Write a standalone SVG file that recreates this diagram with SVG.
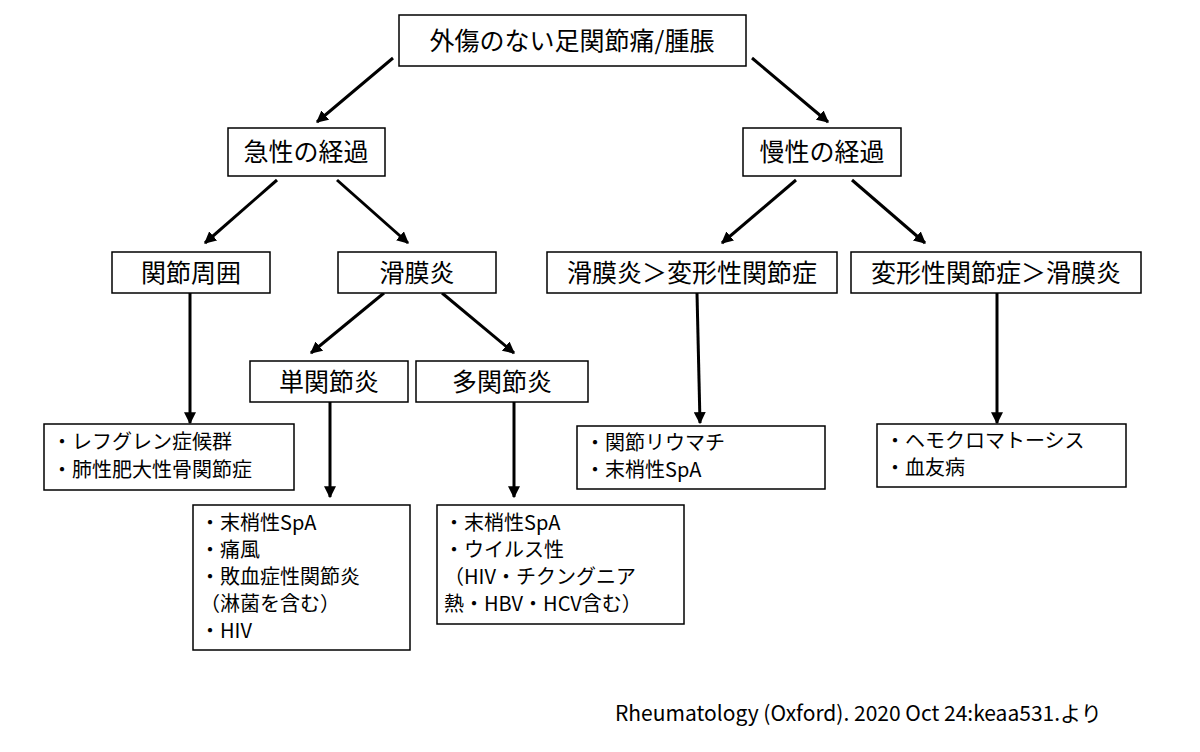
<svg xmlns="http://www.w3.org/2000/svg" width="1200" height="752" viewBox="0 0 1200 752">
<style>
.b{fill:#fff;stroke:#000;stroke-width:1.5}
.t{font-family:"Noto Sans CJK JP","Noto Sans",sans-serif;font-size:25px;fill:#000}
.s{font-family:"Noto Sans CJK JP","Noto Sans",sans-serif;font-size:20px;fill:#000}
.c line{stroke:#000;stroke-width:3;marker-end:url(#a)}
</style>
<defs><marker id="a" viewBox="0 0 10 10" refX="9" refY="5" markerWidth="4" markerHeight="4" orient="auto"><path d="M0,0L10,5L0,10z"/></marker></defs>
<rect width="1200" height="752" fill="#fff"/>
<g class="c">
<line x1="393" y1="58" x2="317" y2="122"/>
<line x1="752" y1="58" x2="828" y2="122"/>
<line x1="277" y1="180" x2="205" y2="243"/>
<line x1="337" y1="180" x2="408" y2="243"/>
<line x1="796" y1="180" x2="722" y2="243"/>
<line x1="852" y1="180" x2="925" y2="243"/>
<line x1="190" y1="293" x2="190" y2="423"/>
<line x1="384" y1="293" x2="311" y2="353"/>
<line x1="442" y1="293" x2="514" y2="353"/>
<line x1="330" y1="402" x2="330" y2="497"/>
<line x1="514" y1="402" x2="514" y2="497"/>
<line x1="697" y1="293" x2="700" y2="423"/>
<line x1="997" y1="293" x2="997" y2="423"/>
</g>
<g id="n0"><rect class="b" x="399" y="15" width="347" height="51"/><text class="t" x="572" y="50" text-anchor="middle">外傷のない足関節痛/腫脹</text></g>
<g id="n1"><rect class="b" x="228" y="128" width="157" height="48"/><text class="t" x="306" y="161" text-anchor="middle">急性の経過</text></g>
<g id="n2"><rect class="b" x="743" y="128" width="158" height="48"/><text class="t" x="822" y="161" text-anchor="middle">慢性の経過</text></g>
<g id="n3"><rect class="b" x="112" y="252" width="158" height="41"/><text class="t" x="191" y="282" text-anchor="middle">関節周囲</text></g>
<g id="n4"><rect class="b" x="338" y="252" width="158" height="41"/><text class="t" x="417" y="282" text-anchor="middle">滑膜炎</text></g>
<g id="n5"><rect class="b" x="547" y="252" width="290" height="41"/><text class="t" x="692" y="282" text-anchor="middle">滑膜炎＞変形性関節症</text></g>
<g id="n6"><rect class="b" x="851" y="252" width="290" height="41"/><text class="t" x="996" y="282" text-anchor="middle">変形性関節症＞滑膜炎</text></g>
<g id="n7"><rect class="b" x="250" y="361" width="158" height="41"/><text class="t" x="329" y="391" text-anchor="middle">単関節炎</text></g>
<g id="n8"><rect class="b" x="416" y="361" width="172" height="41"/><text class="t" x="502" y="391" text-anchor="middle">多関節炎</text></g>
<g id="n9"><rect class="b" x="44" y="424" width="250" height="66"/><text class="s" x="52" y="449">・レフグレン症候群</text><text class="s" x="52" y="477">・肺性肥大性骨関節症</text></g>
<g id="n10"><rect class="b" x="193" y="505" width="217" height="145"/><text class="s" x="200" y="530">・末梢性SpA</text><text class="s" x="200" y="557">・痛風</text><text class="s" x="200" y="584">・敗血症性関節炎</text><text class="s" x="200" y="611">（淋菌を含む）</text><text class="s" x="200" y="638">・HIV</text></g>
<g id="n11"><rect class="b" x="437" y="505" width="247" height="119"/><text class="s" x="444" y="530">・末梢性SpA</text><text class="s" x="444" y="557">・ウイルス性</text><text class="s" x="444" y="584">（HIV・チクングニア</text><text class="s" x="444" y="611">熱・HBV・HCV含む）</text></g>
<g id="n12"><rect class="b" x="577" y="426" width="248" height="63"/><text class="s" x="585" y="450">・関節リウマチ</text><text class="s" x="585" y="477">・末梢性SpA</text></g>
<g id="n13"><rect class="b" x="877" y="424" width="249" height="63"/><text class="s" x="885" y="448">・ヘモクロマトーシス</text><text class="s" x="885" y="475">・血友病</text></g>
<text class="s" x="615" y="721" style="font-size:21px">Rheumatology (Oxford). 2020 Oct 24:keaa531.より</text>
</svg>
